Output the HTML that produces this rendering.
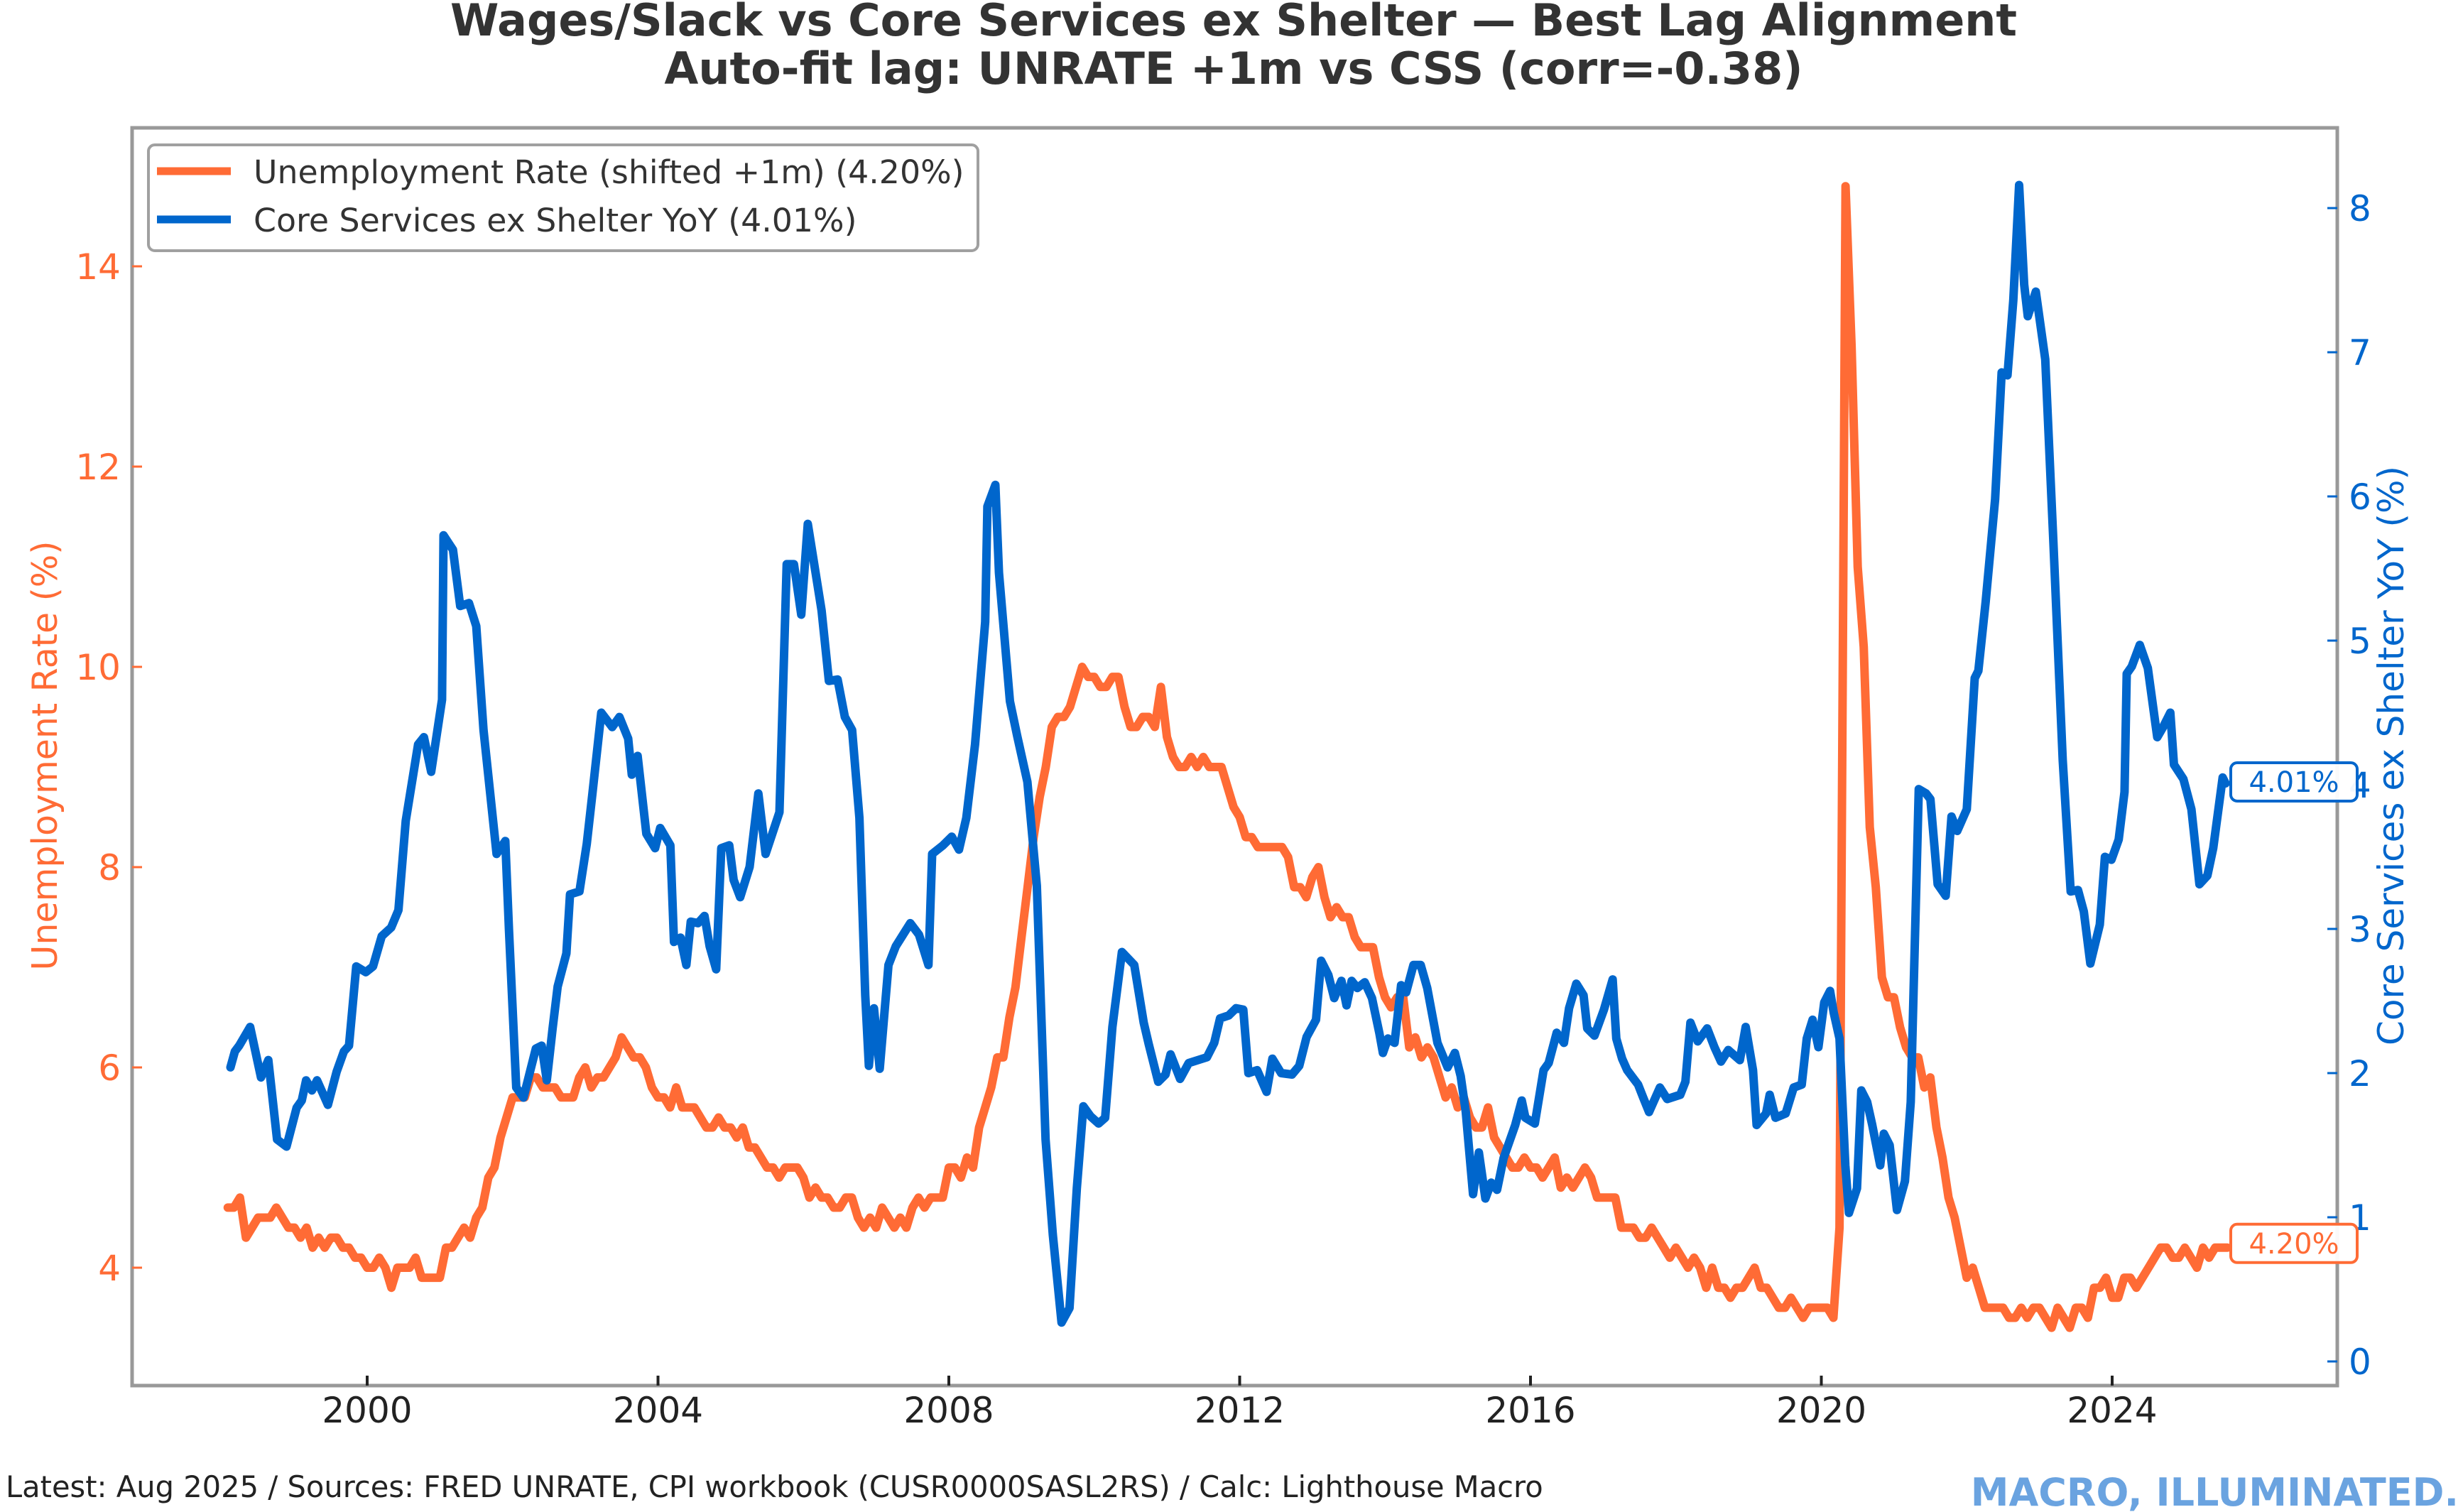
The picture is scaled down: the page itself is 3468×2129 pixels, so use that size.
<!DOCTYPE html>
<html><head><meta charset="utf-8"><style>
html,body{margin:0;padding:0;background:#fff;}
svg{display:block;font-family:"DejaVu Sans","Liberation Sans",sans-serif;}
</style></head><body>
<svg id="chart" width="3468" height="2129" viewBox="0 0 3468 2129" xmlns="http://www.w3.org/2000/svg">
<rect width="3468" height="2129" fill="#fff"/>
<text x="1737" y="50" text-anchor="middle" font-size="62" font-weight="bold" fill="#333">Wages/Slack vs Core Services ex Shelter — Best Lag Alignment</text>
<text x="1737" y="118" text-anchor="middle" font-size="62" font-weight="bold" fill="#333">Auto-fit lag: UNRATE +1m vs CSS (corr=-0.38)</text>
<g id="plot"></g>
<text transform="translate(80,1064) rotate(-90)" text-anchor="middle" font-size="49" fill="#FF6B35">Unemployment Rate (%)</text>
<text transform="translate(3384,1064) rotate(-90)" text-anchor="middle" font-size="50" fill="#0066CC">Core Services ex Shelter YoY (%)</text>
<text x="8" y="2108" font-size="41.6" fill="#222">Latest: Aug 2025 / Sources: FRED UNRATE, CPI workbook (CUSR0000SASL2RS) / Calc: Lighthouse Macro</text>
<text x="3462" y="2120" text-anchor="end" font-size="54" font-weight="bold" fill="#6AA3E0">MACRO, ILLUMINATED.</text>
</svg>
<script>
const unrateStart = 1998.083;
const unrateValues = [
4.6,4.6,4.7,4.3,4.4,4.5,4.5,4.5,4.6,4.5,4.4,4.4,
4.3,4.4,4.2,4.3,4.2,4.3,4.3,4.2,4.2,4.1,4.1,4.0,
4.0,4.1,4.0,3.8,4.0,4.0,4.0,4.1,3.9,3.9,3.9,3.9,
4.2,4.2,4.3,4.4,4.3,4.5,4.6,4.9,5.0,5.3,5.5,5.7,
5.7,5.7,5.9,5.9,5.8,5.8,5.8,5.7,5.7,5.7,5.9,6.0,
5.8,5.9,5.9,6.0,6.1,6.3,6.2,6.1,6.1,6.0,5.8,5.7,
5.7,5.6,5.8,5.6,5.6,5.6,5.5,5.4,5.4,5.5,5.4,5.4,
5.3,5.4,5.2,5.2,5.1,5.0,5.0,4.9,5.0,5.0,5.0,4.9,
4.7,4.8,4.7,4.7,4.6,4.6,4.7,4.7,4.5,4.4,4.5,4.4,
4.6,4.5,4.4,4.5,4.4,4.6,4.7,4.6,4.7,4.7,4.7,5.0,
5.0,4.9,5.1,5.0,5.4,5.6,5.8,6.1,6.1,6.5,6.8,7.3,
7.8,8.3,8.7,9.0,9.4,9.5,9.5,9.6,9.8,10.0,9.9,9.9,
9.8,9.8,9.9,9.9,9.6,9.4,9.4,9.5,9.5,9.4,9.8,9.3,
9.1,9.0,9.0,9.1,9.0,9.1,9.0,9.0,9.0,8.8,8.6,8.5,
8.3,8.3,8.2,8.2,8.2,8.2,8.2,8.1,7.8,7.8,7.7,7.9,
8.0,7.7,7.5,7.6,7.5,7.5,7.3,7.2,7.2,7.2,6.9,6.7,
6.6,6.7,6.7,6.2,6.3,6.1,6.2,6.1,5.9,5.7,5.8,5.6,
5.7,5.5,5.4,5.4,5.6,5.3,5.2,5.1,5.0,5.0,5.1,5.0,
5.0,4.9,5.0,5.1,4.8,4.9,4.8,4.9,5.0,4.9,4.7,4.7,
4.7,4.7,4.4,4.4,4.4,4.3,4.3,4.4,4.3,4.2,4.1,4.2,
4.1,4.0,4.1,4.0,3.8,4.0,3.8,3.8,3.7,3.8,3.8,3.9,
4.0,3.8,3.8,3.7,3.6,3.6,3.7,3.6,3.5,3.6,3.6,3.6,
3.6,3.5,4.4,14.8,13.2,11.0,10.2,8.4,7.8,6.9,6.7,6.7,
6.4,6.2,6.1,6.1,5.8,5.9,5.4,5.1,4.7,4.5,4.2,3.9,
4.0,3.8,3.6,3.6,3.6,3.6,3.5,3.5,3.6,3.5,3.6,3.6,
3.5,3.4,3.6,3.5,3.4,3.6,3.6,3.5,3.8,3.8,3.9,3.7,
3.7,3.9,3.9,3.8,3.9,4.0,4.1,4.2,4.2,4.1,4.1,4.2,
4.1,4.0,4.2,4.1,4.2,4.2,4.2
];
const cssDates = [1998.12,1998.18,1998.24,1998.39,1998.54,1998.64,1998.76,1998.89,1999.03,1999.1,1999.16,1999.24,1999.31,1999.46,1999.58,1999.68,1999.75,1999.85,1999.98,2000.08,2000.2,2000.33,2000.43,2000.53,2000.7,2000.78,2000.88,2001.03,2001.05,2001.18,2001.28,2001.4,2001.5,2001.6,2001.78,2001.9,2001.95,2002.05,2002.15,2002.25,2002.32,2002.4,2002.47,2002.55,2002.62,2002.74,2002.79,2002.92,2003.02,2003.1,2003.22,2003.37,2003.47,2003.59,2003.64,2003.72,2003.84,2003.96,2004.03,2004.17,2004.22,2004.31,2004.39,2004.45,2004.55,2004.64,2004.71,2004.8,2004.87,2004.98,2005.04,2005.13,2005.26,2005.38,2005.48,2005.67,2005.77,2005.87,2005.97,2006.06,2006.25,2006.35,2006.47,2006.57,2006.67,2006.77,2006.85,2006.9,2006.97,2007.05,2007.17,2007.27,2007.47,2007.59,2007.72,2007.77,2007.92,2008.04,2008.14,2008.24,2008.36,2008.5,2008.53,2008.64,2008.69,2008.84,2008.94,2009.08,2009.21,2009.33,2009.43,2009.55,2009.66,2009.76,2009.85,2009.95,2010.06,2010.15,2010.25,2010.38,2010.55,2010.68,2010.75,2010.88,2010.98,2011.05,2011.18,2011.3,2011.55,2011.65,2011.73,2011.85,2011.95,2012.05,2012.12,2012.24,2012.37,2012.45,2012.57,2012.72,2012.82,2012.92,2013.05,2013.12,2013.22,2013.3,2013.4,2013.47,2013.54,2013.62,2013.72,2013.82,2013.92,2013.97,2014.04,2014.13,2014.22,2014.29,2014.39,2014.49,2014.58,2014.72,2014.86,2014.96,2015.04,2015.11,2015.21,2015.29,2015.38,2015.46,2015.54,2015.63,2015.79,2015.88,2015.93,2016.06,2016.18,2016.25,2016.36,2016.46,2016.53,2016.63,2016.73,2016.78,2016.88,2017.01,2017.13,2017.18,2017.26,2017.33,2017.48,2017.55,2017.63,2017.78,2017.88,2018.06,2018.13,2018.2,2018.3,2018.43,2018.53,2018.62,2018.72,2018.88,2018.96,2019.06,2019.11,2019.24,2019.29,2019.37,2019.51,2019.62,2019.73,2019.8,2019.88,2019.96,2020.04,2020.12,2020.17,2020.25,2020.33,2020.38,2020.49,2020.55,2020.63,2020.7,2020.81,2020.86,2020.94,2021.04,2021.15,2021.23,2021.34,2021.44,2021.5,2021.6,2021.71,2021.79,2021.87,2022.0,2022.11,2022.16,2022.26,2022.39,2022.48,2022.56,2022.64,2022.72,2022.79,2022.84,2022.95,2023.08,2023.19,2023.32,2023.43,2023.53,2023.61,2023.7,2023.83,2023.9,2023.99,2024.09,2024.17,2024.2,2024.27,2024.38,2024.49,2024.62,2024.7,2024.8,2024.85,2024.98,2025.09,2025.2,2025.31,2025.39,2025.52,2025.56];
const cssValues = [2.04,2.15,2.19,2.32,1.97,2.09,1.54,1.49,1.76,1.81,1.95,1.88,1.95,1.78,2.01,2.15,2.19,2.74,2.70,2.74,2.95,3.01,3.13,3.75,4.28,4.33,4.09,4.59,5.73,5.63,5.24,5.26,5.1,4.38,3.52,3.61,3.0,1.9,1.83,2.03,2.17,2.19,1.95,2.31,2.6,2.83,3.24,3.26,3.59,3.95,4.5,4.4,4.47,4.32,4.07,4.2,3.66,3.56,3.7,3.58,2.91,2.94,2.75,3.05,3.04,3.09,2.88,2.72,3.56,3.58,3.34,3.22,3.43,3.94,3.52,3.81,5.53,5.53,5.18,5.81,5.21,4.72,4.73,4.47,4.38,3.77,2.54,2.05,2.45,2.03,2.75,2.88,3.04,2.96,2.75,3.52,3.58,3.64,3.55,3.77,4.28,5.13,5.93,6.08,5.47,4.58,4.34,4.02,3.3,1.54,0.88,0.27,0.37,1.2,1.77,1.7,1.65,1.69,2.32,2.84,2.75,2.35,2.2,1.94,1.99,2.13,1.96,2.07,2.11,2.21,2.38,2.4,2.45,2.44,2.0,2.02,1.87,2.1,2.0,1.99,2.05,2.25,2.37,2.78,2.68,2.52,2.64,2.47,2.64,2.59,2.63,2.52,2.28,2.14,2.24,2.21,2.61,2.56,2.75,2.75,2.59,2.21,2.04,2.14,1.98,1.73,1.16,1.45,1.13,1.24,1.19,1.41,1.64,1.81,1.69,1.65,2.02,2.07,2.28,2.21,2.45,2.62,2.54,2.31,2.26,2.44,2.65,2.24,2.1,2.02,1.92,1.83,1.73,1.9,1.82,1.85,1.94,2.35,2.22,2.31,2.18,2.08,2.16,2.09,2.32,2.02,1.64,1.72,1.85,1.69,1.72,1.9,1.92,2.24,2.37,2.18,2.49,2.57,2.42,2.24,1.36,1.03,1.2,1.88,1.8,1.64,1.36,1.58,1.5,1.05,1.25,1.8,3.97,3.94,3.9,3.31,3.23,3.78,3.68,3.83,4.74,4.79,5.27,5.98,6.86,6.84,7.36,8.16,7.47,7.25,7.42,6.95,5.7,4.17,3.26,3.27,3.12,2.76,3.03,3.5,3.48,3.62,3.95,4.77,4.82,4.97,4.81,4.33,4.4,4.5,4.14,4.04,3.83,3.31,3.37,3.56,4.05,4.01];
const xTicks = [2000,2004,2008,2012,2016,2020,2024];
const leftTicks = [4,6,8,10,12,14];
const rightTicks = [0,1,2,3,4,5,6,7,8];

const NS = "http://www.w3.org/2000/svg";
const L = 186, R = 3291, T = 180, B = 1951;
function xS(yr){ return 517 + (yr - 2000) * 102.375; }
function yL(v){ return 1785 - (v - 4) * 141; }
function yR(v){ return 1917 - v * 203; }
const plot = document.getElementById('plot');
function mk(tag, attrs, parent){
  const e = document.createElementNS(NS, tag);
  for (const k in attrs) e.setAttribute(k, attrs[k]);
  (parent || plot).appendChild(e);
  return e;
}
const frame = mk('rect', {x:L, y:T, width:R-L, height:B-T, fill:'none', stroke:'#999', 'stroke-width':5});


xTicks.forEach(t => {
  const x = xS(t);
  const tk = mk('line', {x1:x, x2:x, y1:B, y2:B-14, stroke:'#222', 'stroke-width':4});
  
  
  const lb = mk('text', {x:x, y:B+52, 'text-anchor':'middle', 'font-size':50, fill:'#222'});
  lb.textContent = t;
  
  
});
leftTicks.forEach(t => {
  const y = yL(t);
  const tk = mk('line', {x1:L, x2:L+14, y1:y, y2:y, stroke:'#FF6B35', 'stroke-width':3});
  
  
  const lb = mk('text', {x:L-16, y:y+18, 'text-anchor':'end', 'font-size':50, fill:'#FF6B35'});
  lb.textContent = t;
  
  
});
rightTicks.forEach(t => {
  const y = yR(t);
  const tk = mk('line', {x1:R-14, x2:R, y1:y, y2:y, stroke:'#0066CC', 'stroke-width':3});
  
  
  const lb = mk('text', {x:R+16, y:y+18, 'text-anchor':'start', 'font-size':50, fill:'#0066CC'});
  lb.textContent = t;
  
  
});
let dO = '';
unrateValues.forEach((v,i) => { dO += (i?'L':'M') + xS(unrateStart + i/12).toFixed(1) + ',' + yL(v).toFixed(1); });
const lineO = mk('path', {d:dO, fill:'none', stroke:'#FF6B35', 'stroke-width':12, 'stroke-linejoin':'round', 'stroke-linecap':'round'});


let dB = '';
cssDates.forEach((d,i) => { dB += (i?'L':'M') + xS(d).toFixed(1) + ',' + yR(cssValues[i]).toFixed(1); });
const lineB = mk('path', {d:dB, fill:'none', stroke:'#0066CC', 'stroke-width':12, 'stroke-linejoin':'round', 'stroke-linecap':'round'});


function endLabel(yc, txt, col, name){
  const g = mk('g', {});
  
  
  mk('rect', {x:3141, y:yc-27, width:178, height:54, rx:9, fill:'#fff', 'fill-opacity':0.95, stroke:col, 'stroke-width':4}, g);
  const t = mk('text', {x:3230, y:yc+14, 'text-anchor':'middle', 'font-size':40, fill:col}, g);
  t.textContent = txt;
}
endLabel(yR(cssValues[cssValues.length-1]) - 2, cssValues[cssValues.length-1].toFixed(2) + '%', '#0066CC', 'css-last-value-label');
endLabel(yL(unrateValues[unrateValues.length-1]) - 6, unrateValues[unrateValues.length-1].toFixed(2) + '%', '#FF6B35', 'unrate-last-value-label');
const lg = mk('g', {});


mk('rect', {x:209, y:204, width:1168, height:149, rx:9, fill:'#fff', 'fill-opacity':0.9, stroke:'#a0a0a0', 'stroke-width':4}, lg);
const e1 = mk('g', {}, lg);


mk('line', {x1:221, x2:325, y1:241, y2:241, stroke:'#FF6B35', 'stroke-width':11}, e1);
const t1 = mk('text', {x:357, y:258, 'font-size':45.8, fill:'#333'}, e1);
t1.textContent = 'Unemployment Rate (shifted +1m) (4.20%)';
const e2 = mk('g', {}, lg);


mk('line', {x1:221, x2:325, y1:309, y2:309, stroke:'#0066CC', 'stroke-width':11}, e2);
const t2 = mk('text', {x:357, y:326, 'font-size':45.8, fill:'#333'}, e2);
t2.textContent = 'Core Services ex Shelter YoY (4.01%)';
</script>
</body></html>
